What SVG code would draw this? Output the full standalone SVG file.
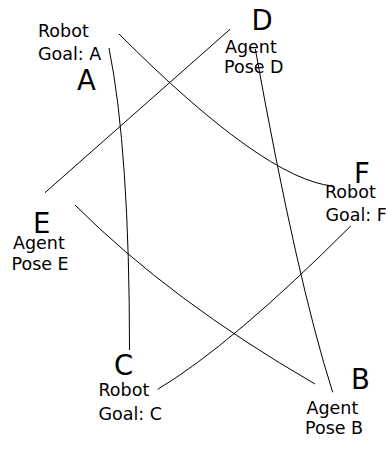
<svg xmlns="http://www.w3.org/2000/svg" width="386" height="454" viewBox="0 0 386 454">
  <style>
    .big { font-family: "DejaVu Sans", "Liberation Sans", sans-serif; font-size: 27.5px; fill: #000; }
    .lbl { font-family: "DejaVu Sans", "Liberation Sans", sans-serif; font-size: 17.5px; fill: #000; }
    .edge { fill: none; stroke: #000; stroke-width: 1; }
  </style>
  <rect width="386" height="454" fill="#fff"/>

  <g id="connectors">
    <path class="edge" d="M109,48 Q129.5,150 129.5,350"/>
    <path class="edge" d="M119,34 Q264,179 332.5,186"/>
    <path class="edge" d="M45,192.7 L230,29.3"/>
    <path class="edge" d="M75,205 Q170,300 315,384"/>
    <path class="edge" d="M350.7,226 Q232,344.7 157.7,389.3"/>
    <path class="edge" d="M255.3,49 Q297,280.7 332.7,392.3"/>
  </g>

  <g id="node-A">
    <text class="big" x="77" y="90">A</text>
    <text class="lbl" x="38" y="37">Robot</text>
    <text class="lbl" x="38" y="60">Goal: A</text>
  </g>
  <g id="node-D">
    <text class="big" x="251.5" y="30">D</text>
    <text class="lbl" x="225" y="53">Agent</text>
    <text class="lbl" x="224" y="73">Pose D</text>
  </g>
  <g id="node-E">
    <text class="big" x="33" y="233">E</text>
    <text class="lbl" x="13" y="248.5">Agent</text>
    <text class="lbl" x="11.5" y="269.5">Pose E</text>
  </g>
  <g id="node-F">
    <text class="big" x="354" y="183">F</text>
    <text class="lbl" x="325" y="198">Robot</text>
    <text class="lbl" x="325.5" y="221">Goal: F</text>
  </g>
  <g id="node-C">
    <text class="big" x="114" y="375">C</text>
    <text class="lbl" x="98.5" y="396">Robot</text>
    <text class="lbl" x="98.5" y="419.5">Goal: C</text>
  </g>
  <g id="node-B">
    <text class="big" x="351" y="389">B</text>
    <text class="lbl" x="306.5" y="413.5">Agent</text>
    <text class="lbl" x="305" y="433.5">Pose B</text>
  </g>
</svg>
